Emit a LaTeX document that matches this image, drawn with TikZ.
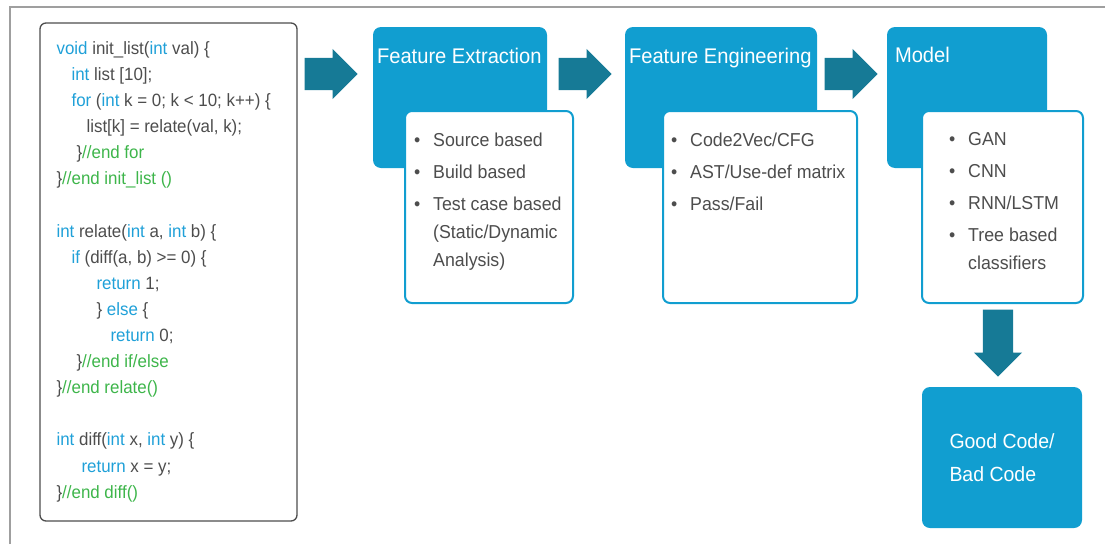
\documentclass[tikz,border=0pt]{standalone}
\usepackage{fontspec}
\setmainfont[FakeStretch=0.95]{Liberation Sans}
\usetikzlibrary{shapes.arrows}
\definecolor{stageblue}{HTML}{119ED0}
\definecolor{arrowteal}{HTML}{167A96}
\definecolor{kwblue}{HTML}{1FA0D8}
\definecolor{cmgreen}{HTML}{3DB54A}
\definecolor{codegray}{HTML}{4D4D4D}
\newcommand{\codekw}[1]{\textcolor{kwblue}{#1}}
\newcommand{\codecm}[1]{\textcolor{cmgreen}{#1}}
\newcommand{\bitem}[1]{\makebox[19pt][l]{\textbullet}#1}
\newcommand{\bwrap}[1]{\hspace*{19pt}#1}

\begin{document}
\begin{tikzpicture}[
        x=1pt,y=-1pt,
        stage/.style={fill=stageblue,rounded corners=8pt,minimum height=141pt,inner sep=0pt},
        itembox/.style={draw=stageblue,line width=2pt,fill=white,rounded corners=7pt,minimum height=192pt,inner sep=0pt},
        items/.style={anchor=north west,align=left,text=codegray,inner sep=0pt,font=\fontsize{18.7}{28}\selectfont},
        title/.style={anchor=base west,text=white,inner sep=0pt,font=\fontsize{21.2}{25}\selectfont},
        bigarrow/.style={single arrow,fill=arrowteal,inner sep=#1,single arrow head extend=9pt,anchor=tip},
        codebox/.style={draw=codegray,line width=1.3pt,rounded corners=6pt,minimum width=257pt,minimum height=498pt},
        codetext/.style={anchor=north west,align=left,inner sep=0pt,text=codegray,font=\fontsize{17.8}{26.1}\selectfont}
      ]
      \useasboundingbox (0,0) rectangle (1105,544);
      \draw[gray!75,line width=1.5pt] (10,544) -- (10,7) -- (1105,7);

      % source code
      \node (code) [codebox] at (168.5,272) {};
      \node (codelines) [codetext] at ([xshift=17pt,yshift=-19pt]code.north west) {%
        \codekw{void} init\_list(\codekw{int} val) \{\\
        \hspace*{15pt}\codekw{int} list [10];\\
        \hspace*{15pt}\codekw{for} (\codekw{int} k = 0; k < 10; k++) \{\\
        \hspace*{30pt}list[k] = relate(val, k);\\
        \hspace*{20pt}\}\codecm{//end for}\\
        \}\codecm{//end init\_list ()}\\[26.1pt]
        \codekw{int} relate(\codekw{int} a, \codekw{int} b) \{\\
        \hspace*{15pt}\codekw{if} (diff(a, b) >= 0) \{\\
        \hspace*{40pt}\codekw{return} 1;\\
        \hspace*{40pt}\} \codekw{else} \{\\
        \hspace*{54pt}\codekw{return} 0;\\
        \hspace*{20pt}\}\codecm{//end if/else}\\
        \}\codecm{//end relate()}\\[26.1pt]
        \codekw{int} diff(\codekw{int} x, \codekw{int} y) \{\\
        \hspace*{25pt}\codekw{return} x = y;\\
        \}\codecm{//end diff()}};

      % stages
      \node (fe) [stage,minimum width=174pt] at (460,97.5) {};
      \node (fetitle) [title] at ([xshift=4pt,yshift=-37pt]fe.north west) {Feature Extraction};
      \node (felist) [itembox,minimum width=168pt] at (489,207) {};
      \node (feitems) [items] at ([xshift=10pt,yshift=-22.5pt]felist.north west) {%
        \bitem{Source based}\\[4pt]
        \bitem{Build based}\\[4pt]
        \bitem{Test case based}\\
        \bwrap{(Static/Dynamic}\\
        \bwrap{Analysis)}};

      \node (feng) [stage,minimum width=192pt] at (721,97.5) {};
      \node (fengtitle) [title] at ([xshift=4pt,yshift=-37pt]feng.north west) {Feature Engineering};
      \node (fenglist) [itembox,minimum width=194pt] at (760,207) {};
      \node (fengitems) [items] at ([xshift=9pt,yshift=-22.5pt]fenglist.north west) {%
        \bitem{Code2Vec/CFG}\\[4pt]
        \bitem{AST/Use-def matrix}\\[4pt]
        \bitem{Pass/Fail}};

      \node (model) [stage,minimum width=160pt] at (967,97.5) {};
      \node (modeltitle) [title] at ([xshift=8pt,yshift=-36pt]model.north west) {Model};
      \node (modlist) [itembox,minimum width=161pt] at (1002.5,207) {};
      \node (moditems) [items] at ([xshift=28pt,yshift=-22.5pt]modlist.north west) {%
        \bitem{GAN}\\[4pt]
        \bitem{CNN}\\[4pt]
        \bitem{RNN/LSTM}\\[4pt]
        \bitem{Tree based}\\
        \bwrap{classifiers}};

      \node (out) [stage,minimum width=160pt,align=left,text=white,font=\fontsize{20.5}{33}\selectfont]
        at (1002,457.5) {Good Code/\\Bad Code};

      % flow
      \node (a1) [bigarrow=16pt,minimum height=53pt] at (358,74) {};
      \node (a2) [bigarrow=16pt,minimum height=53pt] at (612,74) {};
      \node (a3) [bigarrow=16pt,minimum height=53pt] at (878,74) {};
      \node (a4) [bigarrow=15pt,minimum height=67pt,shape border rotate=270] at (998,377) {};
    \end{tikzpicture}
\end{document}
